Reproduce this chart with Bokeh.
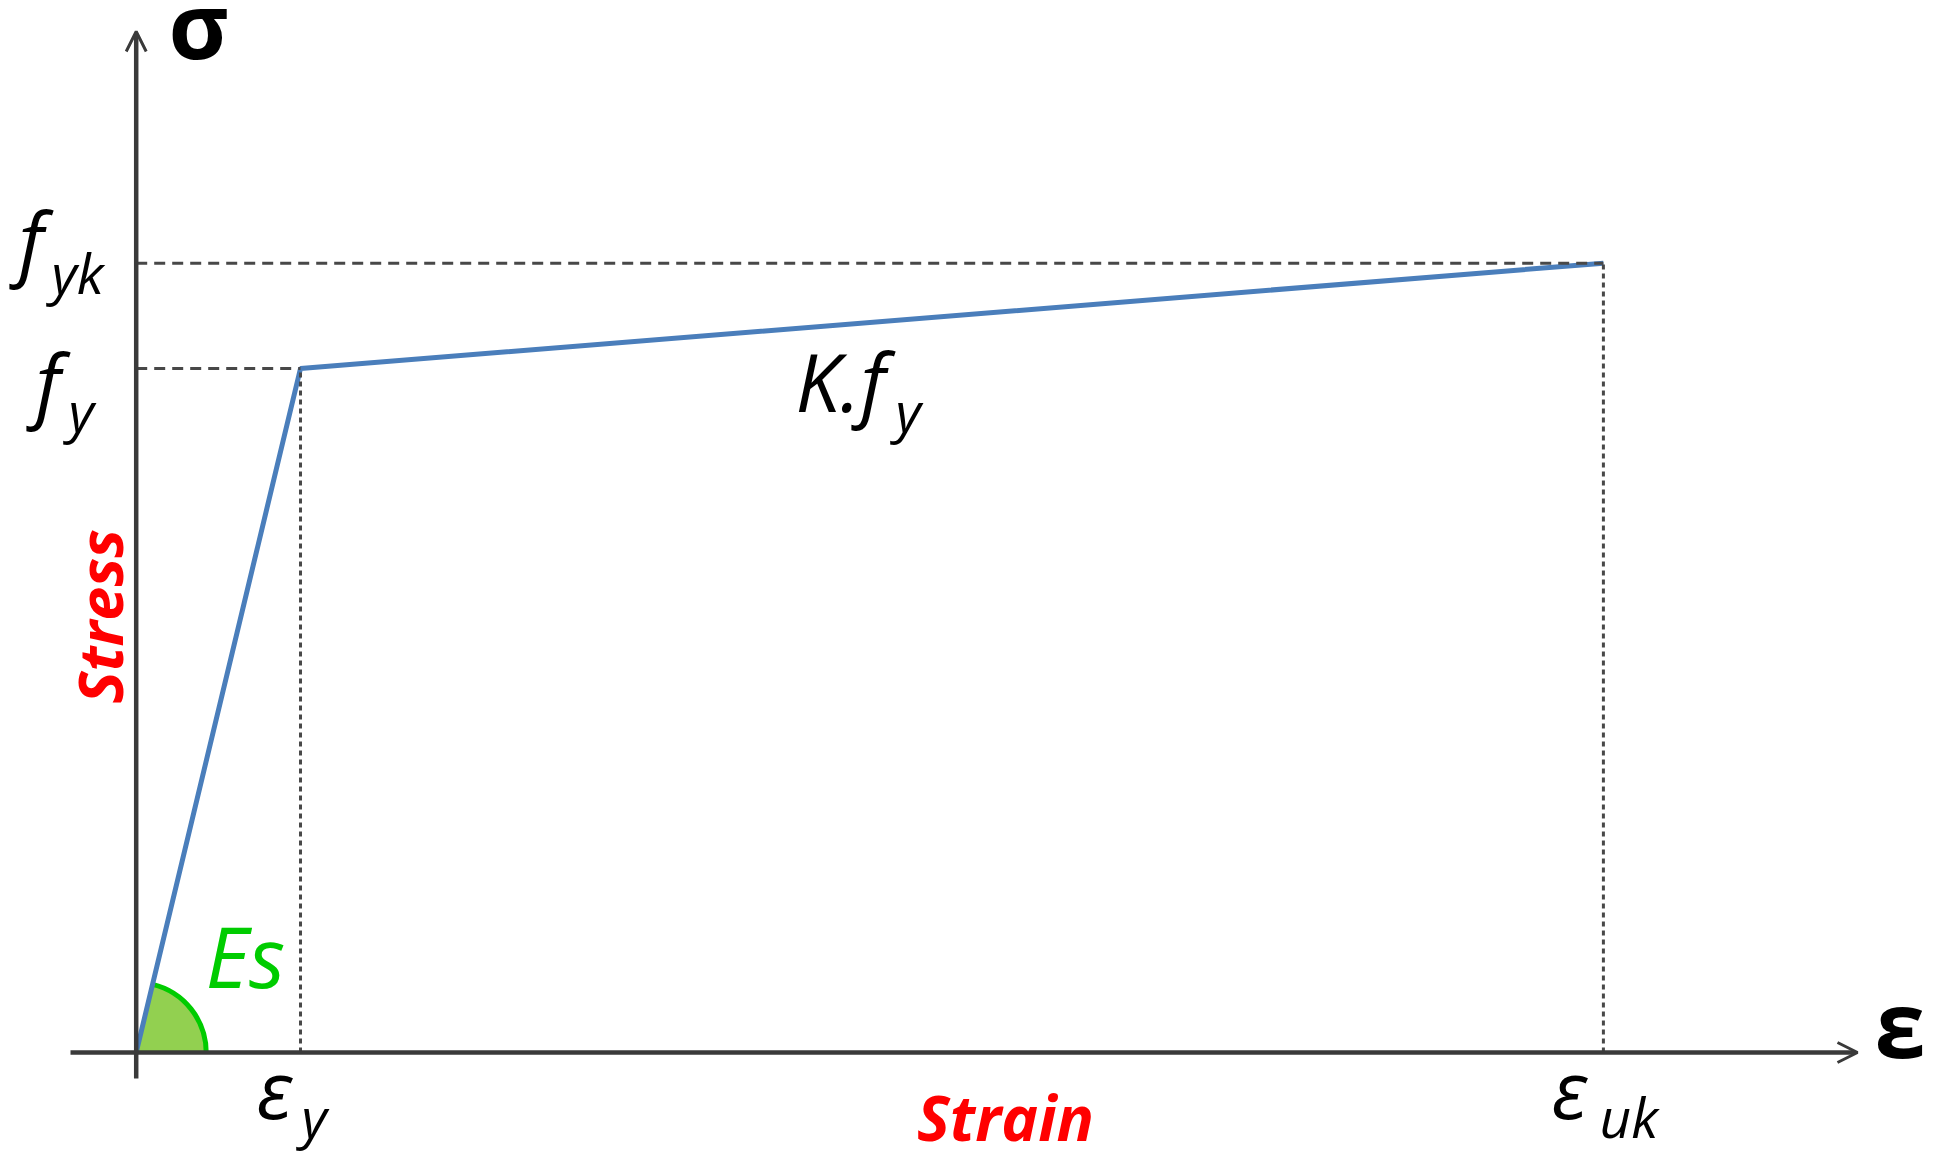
import math
from bokeh.plotting import figure
from bokeh.models import Range1d, Arrow, OpenHead
from bokeh.core.properties import value
from bokeh.embed import file_html
from bokeh.resources import INLINE

# ---- data (normalised units) ----
strain_pts = [0.0, 1.0, 8.93]      # 0, eps_y, eps_uk
stress_pts = [0.0, 1.0, 1.154]     # 0, f_y, f_yk
eps_y, eps_uk = strain_pts[1], strain_pts[2]
f_y, f_yk = stress_pts[1], stress_pts[2]

# ---- layout ----
W, H = 1934, 1162
PAGE_OFF = 0
SX, SY = 164.3, 684.0        # px per unit
OX, OY = 135.7, 1052.0       # page px of origin
x_start = -(OX - PAGE_OFF) / SX
x_end = x_start + W / SX
y_end = (OY - PAGE_OFF) / SY
y_start = y_end - H / SY


def dx(px):
    return (px - OX) / SX


def dy(py):
    return (OY - py) / SY


p = figure(width=W, height=H, x_range=Range1d(x_start, x_end), y_range=Range1d(y_start, y_end),
           output_backend="svg", toolbar_location=None, x_axis_type=None, y_axis_type=None,
           min_border=0, outline_line_color=None)
p.grid.visible = False
p.background_fill_color = "white"

FONT = value("Open Sans")
BLUE = "#4a7ebb"
GREEN = "#00cc00"
AXC = "#3a3a3a"
DASHC = "#484848"

# Es wedge
theta = math.atan2(f_y * SY, eps_y * SX)
p.wedge(x=[0], y=[0], radius=70, radius_units="screen", start_angle=0, end_angle=theta,
        fill_color="#92d050", line_color=None)
p.arc(x=[0], y=[0], radius=70, radius_units="screen", start_angle=0, end_angle=theta,
      line_color=GREEN, line_width=5)

# stress-strain curve
p.line(x=strain_pts, y=stress_pts, line_color=BLUE, line_width=5)

# guide lines
p.line(x=[0, eps_uk], y=[f_yk, f_yk], line_color=DASHC, line_width=3, line_dash="11 7")
p.line(x=[0, eps_y], y=[f_y, f_y], line_color=DASHC, line_width=3, line_dash="11 7")
p.line(x=[eps_y, eps_y], y=[0, f_y], line_color=DASHC, line_width=3, line_dash="5 4")
p.line(x=[eps_uk, eps_uk], y=[0, f_yk], line_color=DASHC, line_width=3, line_dash="5 4")

# axes with arrows
p.add_layout(Arrow(x_start=dx(70), y_start=0, x_end=dx(1857), y_end=0,
                   line_color=AXC, line_width=4.5,
                   end=OpenHead(size=20, line_color=AXC, line_width=3)))
p.add_layout(Arrow(x_start=0, y_start=dy(1078), x_end=0, y_end=dy(31),
                   line_color=AXC, line_width=4.5,
                   end=OpenHead(size=20, line_color=AXC, line_width=3)))


def txt(px, py, s, size, color="black", style="italic", align="left", baseline="alphabetic", angle=0):
    if baseline == "alphabetic":
        py = py - 0.38 * size
    p.text(x=[dx(px)], y=[dy(py)], text=[s], text_font=FONT, text_font_size=f"{size}px",
           text_font_style=style, text_color=color, text_align=align, text_baseline=baseline,
           angle=angle)


# axis symbols
txt(168, 58, "σ", 92, style="bold")
txt(1874, 1057, "ε", 92, style="bold")

# stress labels
txt(18, 269, "f", 80)
txt(51, 293, "yk", 55)
txt(35, 411, "f", 80)
txt(68, 431, "y", 55)

# K.fy
txt(795, 410, "K.f", 80)
txt(895, 431, "y", 55)

# Es
txt(205, 987, "Es", 84, color=GREEN)

# strain labels
txt(256, 1117, "ε", 80)
txt(301, 1137, "y", 55)
txt(1551, 1117, "ε", 80)
txt(1599, 1137, "uk", 55)

# axis titles
txt(1005, 1140, "Strain", 62, color="red", style="bold italic", align="center")
txt(99, 616, "Stress", 61, color="red", style="bold italic", align="center", baseline="middle",
    angle=math.pi / 2)

open("out.html", "w").write(file_html(p, INLINE))
